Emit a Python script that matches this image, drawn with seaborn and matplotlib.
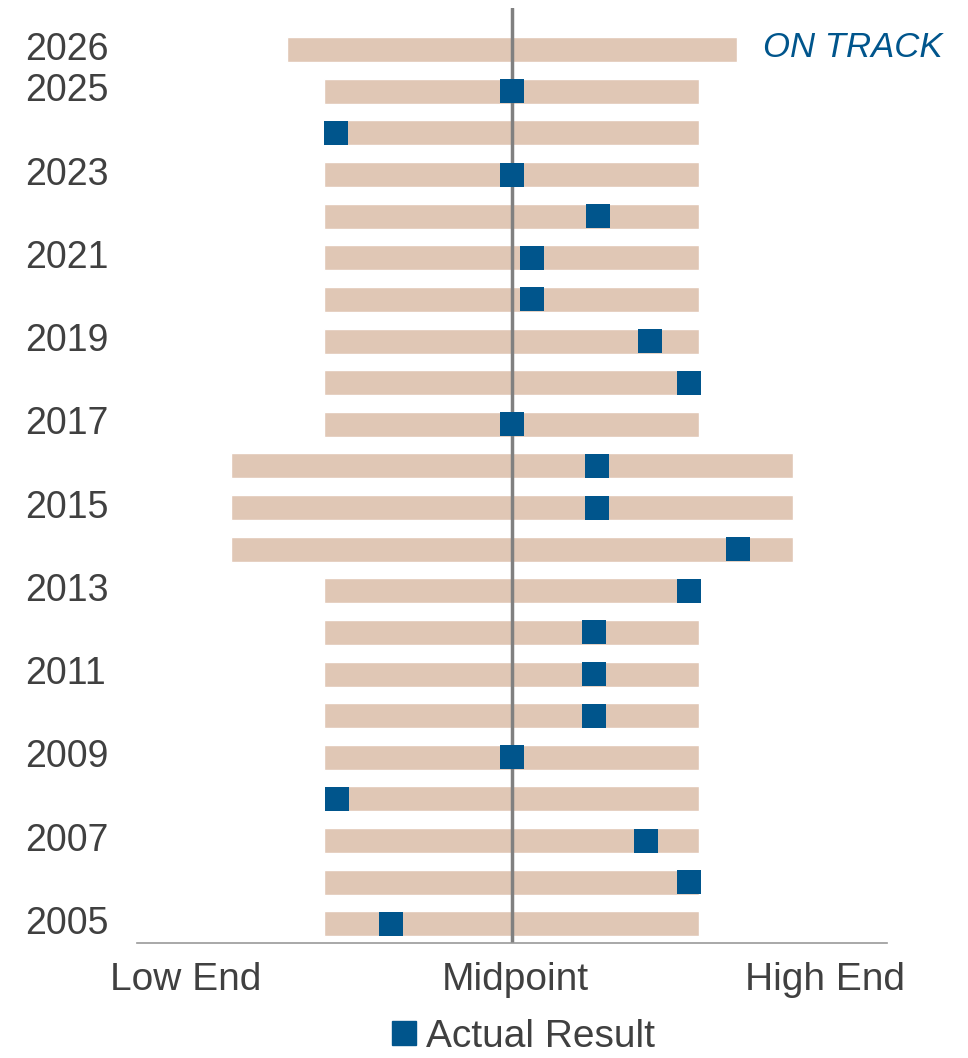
import numpy as np
import pandas as pd
import seaborn as sns
from matplotlib import pyplot as plt
from matplotlib.lines import Line2D
from matplotlib.transforms import ScaledTranslation

years = list(range(2005, 2027))
low_end = [-1.0] * 9 + [-1.5] * 3 + [-1.0] * 9 + [-1.2]
high_end = [1.0] * 9 + [1.5] * 3 + [1.0] * 9 + [1.2]
# actual result relative to midpoint (range half-width = 1), None for 2026
actual = [-0.645, 0.944, 0.715, -0.933, 0.0, 0.437, 0.437, 0.437, 0.944, 1.205,
          0.453, 0.453, 0.0, 0.944, 0.736, 0.107, 0.107, 0.46, 0.0, -0.94, 0.0, None]
year_labels = [str(y) if (y % 2 == 1 or y == 2026) else "" for y in years]
x_ticks = [-1.74, 0.02, 1.67]
x_labels = ["Low End", "Midpoint", "High End"]

df = pd.DataFrame({"Year": years, "Low": low_end, "High": high_end, "Actual": actual})
df["pos"] = df["Year"] - 2005

sns.set_theme(style="white")
plt.rcParams['font.family'] = ['Liberation Sans', 'DejaVu Sans']

bar_color = "#E0C7B5"
blue = "#00558C"
text_gray = "#404040"

fig = plt.figure(figsize=(9.68, 10.58), dpi=100)
ax = fig.add_axes([0.1415, 0.1087, 0.7748, 0.8837])

ax.barh(df["pos"], df["High"] - df["Low"], left=df["Low"], height=0.6,
        color=bar_color, zorder=1)
ax.axvline(0, color="#808080", lw=2.5, zorder=2)

pts = df.dropna(subset=["Actual"])
sns.scatterplot(data=pts, x="Actual", y="pos", marker="s", s=310, color=blue,
                linewidth=0, ax=ax, zorder=3, legend=False)

ax.set_xlim(-2, 2)
ax.set_ylim(-0.46, 22.0)
ax.set_yticks(df["pos"])
ax.set_yticklabels(year_labels)
ax.set_xticks(x_ticks)
ax.set_xticklabels(x_labels)
ax.tick_params(axis="y", length=0, pad=28, labelsize=27, labelcolor=text_gray)
ax.tick_params(axis="x", length=0, pad=14, labelsize=28, labelcolor=text_gray)
shift_up = ScaledTranslation(0, 4 / 100, fig.dpi_scale_trans)
for lab in ax.get_yticklabels():
    lab.set_horizontalalignment("left")
    lab.set_x(-0.097)
    lab.set_transform(lab.get_transform() + shift_up)
ax.set_xlabel("")
ax.set_ylabel("")

for side in ["top", "right", "left"]:
    ax.spines[side].set_visible(False)
ax.spines["bottom"].set_color("#999999")
ax.spines["bottom"].set_linewidth(1.2)

ax.text(1.34, 21.05, "ON TRACK", color=blue, fontsize=25, fontstyle="italic",
        va="center", ha="left", clip_on=False)

handle = Line2D([], [], marker="s", color=blue, linestyle="none", markersize=17.5)
fig.legend([handle], ["Actual Result"], loc="lower center", bbox_to_anchor=(0.537, 0.003),
           frameon=False, fontsize=28, handletextpad=0.05, handlelength=1.0,
           borderpad=0, borderaxespad=0, labelcolor=text_gray)

fig.savefig("out.png", dpi=100)
